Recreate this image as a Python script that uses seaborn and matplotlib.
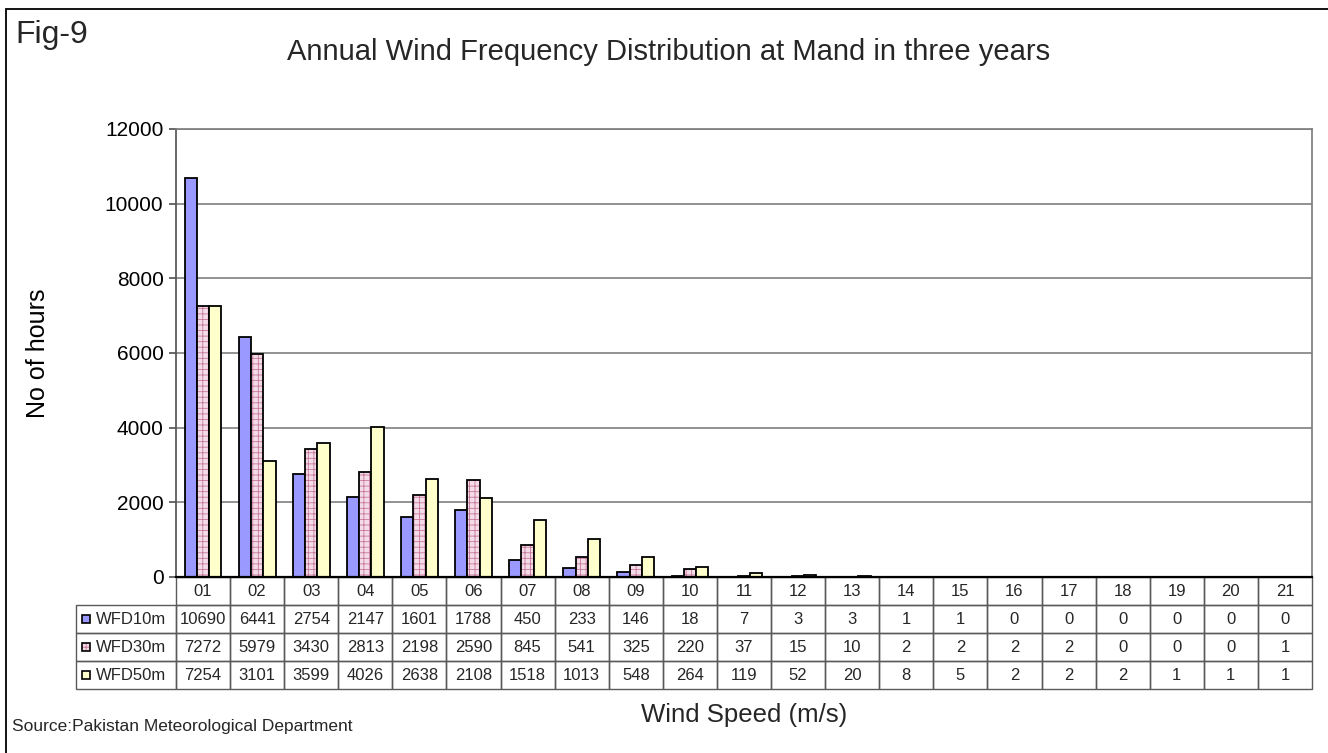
import numpy as np
import pandas as pd
import seaborn as sns
import matplotlib.pyplot as plt
import matplotlib.colors as mcolors
from matplotlib.patches import Rectangle

# wind speed classes (m/s) and hours per class
speeds = ['01', '02', '03', '04', '05', '06', '07', '08', '09', '10', '11',
          '12', '13', '14', '15', '16', '17', '18', '19', '20', '21']
wfd10 = [10690, 6441, 2754, 2147, 1601, 1788, 450, 233, 146, 18, 7,
         3, 3, 1, 1, 0, 0, 0, 0, 0, 0]
wfd30 = [7272, 5979, 3430, 2813, 2198, 2590, 845, 541, 325, 220, 37,
         15, 10, 2, 2, 2, 2, 0, 0, 0, 1]
wfd50 = [7254, 3101, 3599, 4026, 2638, 2108, 1518, 1013, 548, 264, 119,
         52, 20, 8, 5, 2, 2, 2, 1, 1, 1]
series_names = ['WFD10m', 'WFD30m', 'WFD50m']
colors = ['#9999FF', '#F3DCE8', '#FFFFCC']

df = pd.DataFrame({
    'speed': speeds * 3,
    'hours': wfd10 + wfd30 + wfd50,
    'series': np.repeat(series_names, len(speeds)),
})

sns.set_theme(style='white')
plt.rcParams['font.family'] = ['Liberation Sans', 'DejaVu Sans']
plt.rcParams['hatch.linewidth'] = 0.6

W, H = 1328, 753
fig = plt.figure(figsize=(W / 100, H / 100), dpi=100)


def fx(x):
    return x / W


def fy(y):
    return 1 - y / H


# plot area in pixels: x 176..1312, y 129..577
ax = fig.add_axes([fx(176), fy(577), fx(1312) - fx(176), fy(129) - fy(577)])

sns.barplot(data=df, x='speed', y='hours', hue='series',
            palette=dict(zip(series_names, colors)), width=0.68,
            saturation=1, edgecolor='black', linewidth=1.3,
            legend=False, ax=ax)

# checked pattern for the 30 m bars
for p in ax.containers[1]:
    p.set_hatch('+++')
    p._hatch_color = mcolors.to_rgba('#C77799')

ax.set_ylim(0, 12000)
ax.set_xlim(-0.5, len(speeds) - 0.5)
ax.set_yticks(range(0, 12001, 2000))
ax.tick_params(axis='y', labelsize=15, left=True, length=5, color='#555555',
               labelcolor='black', pad=4)
ax.tick_params(axis='x', bottom=False, labelbottom=False)
ax.yaxis.grid(True, color='#7f7f7f', linewidth=1.2)
ax.set_axisbelow(True)
ax.set_xlabel('')
ax.set_ylabel('No of hours', fontsize=18, color='black')
ax.yaxis.set_label_coords(-(176 - 50) / 1136, 0.5)

ax.spines['left'].set_color('#555555')
ax.spines['bottom'].set_color('black')
ax.spines['bottom'].set_linewidth(1.6)
ax.spines['right'].set_color('#7f7f7f')
ax.spines['top'].set_color('#7f7f7f')

# data table under the axis
cell_text = [[''] + speeds]
for name, vals in zip(series_names, [wfd10, wfd30, wfd50]):
    cell_text.append([name] + [str(v) for v in vals])
col_w = [100 / 1136] + [1 / 21] * 21
tbl = ax.table(cellText=cell_text, colWidths=col_w, cellLoc='center',
               bbox=[-100 / 1136, -112 / 448, 1236 / 1136, 112 / 448])
tbl.auto_set_font_size(False)
tbl.set_fontsize(12)
for (r, c), cell in tbl.get_celld().items():
    cell.set_edgecolor('#5a5a5a')
    cell.set_linewidth(1.0)
    cell.set_facecolor('none')
    if r == 0 and c == 0:
        cell.visible_edges = 'open'
    if r > 0 and c == 0:
        cell.set_text_props(ha='right')

# legend keys in the row labels
for i, col in enumerate(colors):
    yc = 577 + 28 * (i + 1) + 14
    key = Rectangle((fx(82), fy(yc + 4)), fx(8), 8 / H, transform=fig.transFigure,
                    facecolor=col, edgecolor='black', linewidth=1.2,
                    hatch='+++' if i == 1 else None)
    if i == 1:
        key._hatch_color = mcolors.to_rgba('#C77799')
    fig.add_artist(key)

# outer frame (only top/left visible in the crop)
fig.add_artist(Rectangle((fx(6), fy(H + 20)), 1.2, fy(9) - fy(H + 20),
                         transform=fig.transFigure, fill=False,
                         edgecolor='black', linewidth=1.3))

fig.text(fx(15), fy(43), 'Fig-9', fontsize=23, va='baseline', ha='left')
fig.text(fx(669), fy(60), 'Annual Wind Frequency Distribution at Mand in three years',
         fontsize=21, ha='center', va='baseline')
fig.text(fx(744), fy(722), 'Wind Speed (m/s)', fontsize=18.5, ha='center', va='baseline')
fig.text(fx(12), fy(727), 'Source:Pakistan Meteorological Department', fontsize=12.5,
         ha='left', va='center')

fig.savefig('out.png', dpi=100)
